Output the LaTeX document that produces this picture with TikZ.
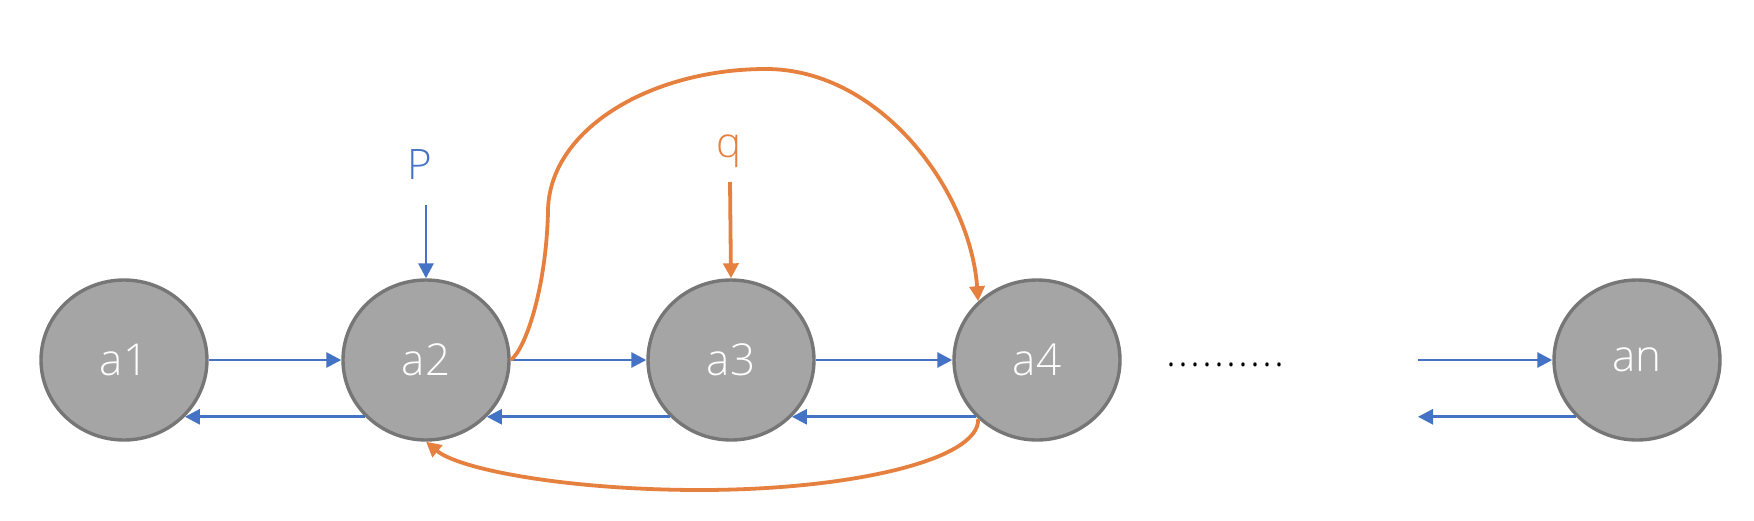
\documentclass[tikz,border=0pt]{standalone}
\usepackage{fontspec}
\setmainfont{Open Sans}[UprightFont={* Light}]
\usetikzlibrary{arrows.meta,shapes.geometric}
\definecolor{nodefill}{HTML}{A5A5A5}
\definecolor{nodeline}{HTML}{767676}
\definecolor{bluec}{HTML}{4472C4}
\definecolor{orangec}{HTML}{E5803F}
\begin{document}
\begin{tikzpicture}[x=1pt,y=-1pt,
  statenode/.style={ellipse, minimum width=166pt, minimum height=160pt, inner sep=0pt,
    fill=nodefill, draw=nodeline, line width=3.4pt, text=white,
    font=\fontsize{44}{52}\selectfont},
  barrow/.style={draw=bluec, line width=2.8pt, -{Triangle[length=15pt,width=15pt]}},
  oarrow/.style={draw=orangec, line width=3.8pt, -{Triangle[length=15pt,width=15pt]}},
  lbl/.style={font=\fontsize{42}{50}\selectfont, inner sep=0pt}]
\useasboundingbox (0,0) rectangle (1754,520);

\node[statenode] (a1) at (124,360) {\raisebox{-3pt}{a1}};
\node[statenode] (a2) at (426,360) {\raisebox{-3pt}{a2}};
\node[statenode] (a3) at (731,360) {\raisebox{-3pt}{a3}};
\node[statenode] (a4) at (1037,360) {\raisebox{-3pt}{a4}};
\node[statenode] (an) at (1637,360) {\raisebox{-3pt}{an}};

\node[lbl, text=bluec] (p) at (420,165) {P};
\node[lbl, text=orangec] (q) at (729,151) {q};
\node[lbl, anchor=base] (dots) at (1225,366)
  {.\kern2pt.\kern2pt.\kern2pt.\kern2pt.\kern2pt.\kern2pt.\kern2pt.\kern2pt.\kern2pt.};

\coordinate (ptop) at (426,205);
\coordinate (qtop) at (730,182);
\coordinate (gapx) at (1418,360);

% forward arrows
\draw[barrow] (a1.east) -- (a2.west);
\draw[barrow] (a2.east) -- (a3.west);
\draw[barrow] (a3.east) -- (a4.west);
\draw[barrow] (gapx) -- (an.west);
% backward arrows
\draw[barrow] (a2.223.5) -- (a1.-43.5);
\draw[barrow] (a3.223.5) -- (a2.-43.5);
\draw[barrow] (a4.223.5) -- (a3.-43.5);
\draw[barrow] (an.223.5) -- (an.223.5 -| gapx);
% inputs
\draw[barrow] (ptop) -- (a2.north);
\draw[oarrow] (qtop) -- (a3.north);
% orange curves
\draw[oarrow] (a2.east) .. controls (525,350) and (546,290) .. (548,212)
  .. controls (548,130) and (650,69) .. (766,69)
  .. controls (880,69) and (970,190) .. (a4.135);
\draw[oarrow] (a4.225) .. controls (980,460) and (850,490) .. (700,490)
  .. controls (570,490) and (460,470) .. (a2.south);
\end{tikzpicture}
\end{document}
